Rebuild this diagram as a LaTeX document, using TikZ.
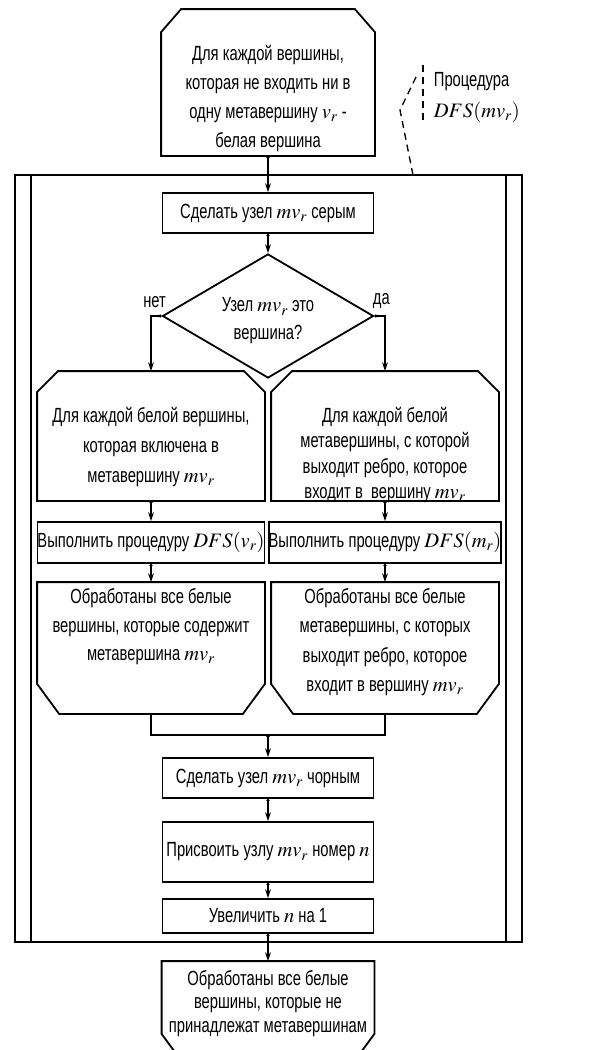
\documentclass[tikz,border=0pt]{standalone}
\usepackage{mathptmx}
\usepackage{fontspec}
\setmainfont{Liberation Sans}[FakeStretch=0.72]
\usetikzlibrary{arrows.meta,shapes.geometric,calc,positioning}

\begin{document}
\begin{tikzpicture}[x=1pt,y=-1pt,line width=1.8pt,
  every node/.style={font=\fontsize{20.5}{28.5}\selectfont, align=center, inner sep=0pt},
  lsp/.style={font=\fontsize{20.5}{#1}\selectfont},
  flow/.style={{Circle[length=3pt]}-{Stealth[length=9pt,width=6pt]}},
  act/.style={draw, rectangle, minimum width=211pt},
  cutbox/.style={rectangle, minimum width=226pt},
  ]
  \useasboundingbox (0,0) rectangle (593,1050);
  \clip (0,0) rectangle (593,1050);

  % рамка цикла
  \node[draw, minimum width=507pt, minimum height=767pt] (loop) at (268.5,558.5) {};
  \draw ($(loop.north west)+(17,0)$) -- ($(loop.south west)+(17,0)$);
  \draw ($(loop.north east)+(-17,0)$) -- ($(loop.south east)+(-17,0)$);

  % блоки
  \node[cutbox, minimum width=212pt, minimum height=145pt] (start) at (268,82.5) {};
  \node[lsp=29pt] (startt) at ($(start)+(0,16)$)
    {Для каждой вершины,\\которая не входить ни в\\одну метавершину $v_r$ -\\белая вершина};
  \node[act, minimum height=40pt] (gray) at (268,213) {Сделать узел $mv_r$ серым};
  \node[draw, diamond, aspect=1.7, minimum width=211pt, minimum height=124pt] (cond) at (268,316) {};
  \node[lsp=28pt] (condt) at ($(cond)+(0,5)$) {Узел $mv_r$ это\\вершина?};
  \node[above=7pt of cond.west, xshift=-7pt] (no) {нет};
  \node[above=7pt of cond.east, xshift=7pt] (yes) {да};

  \node[cutbox, minimum height=128pt] (lbeg) at (151,436) {};
  \node[lsp=30pt] (lbegt) at ($(lbeg)+(0,11)$)
    {Для каждой белой вершины,\\которая включена в\\метавершину $mv_r$};
  \node[cutbox, minimum height=128pt] (rbeg) at (385,436) {};
  \node[lsp=25.5pt] (rbegt) at ($(rbeg)+(0,19)$)
    {Для каждой белой\\метавершины, с которой\\выходит ребро, которое\\входит в\ \ вершину $mv_r$};
  \node[act, minimum width=226pt, minimum height=41pt] (lexec) at (151,542.5)
    {Выполнить процедуру $DFS(v_r)$};
  \node[act, minimum width=226pt, minimum height=41pt] (rexec) at (385,542.5)
    {Выполнить процедуру $DFS(m_r)$};
  \node[cutbox, minimum height=130pt] (lend) at (151,648) {};
  \node[lsp=28.5pt] (lendt) at ($(lend)+(0,-21)$)
    {Обработаны все белые\\вершины, которые содержит\\метавершина $mv_r$};
  \node[cutbox, minimum height=130pt] (rend) at (385,648) {};
  \node[lsp=29.5pt] (rendt) at ($(rend)+(0,-6)$)
    {Обработаны все белые\\метавершины, с которых\\выходит ребро, которое\\входит в вершину $mv_r$};
  \coordinate (join) at (268,735);

  \node[act, minimum height=40pt] (black) at (268,778) {Сделать узел $mv_r$ чорным};
  \node[act, minimum height=60pt] (assign) at (268,852) {Присвоить узлу $mv_r$ номер $n$};
  \node[act, minimum height=34pt] (incr) at (268,916) {Увеличить $n$ на 1};
  \node[cutbox, minimum width=211pt, minimum height=101pt] (fin) at (268,1012.5) {};
  \node[lsp=23.5pt] (fint) at ($(fin)+(0,-9)$)
    {Обработаны все белые\\вершины, которые не\\принадлежат метавершинам};

  % начало и конец цикла (срезанные углы)
  \foreach \n/\cx/\cy in {start/20/23, lbeg/21/21, rbeg/21/21}
    \draw (\n.south west) -- ($(\n.north west)+(0,\cy)$) -- ($(\n.north west)+(\cx,0)$)
      -- ($(\n.north east)+(-\cx,0)$) -- ($(\n.north east)+(0,\cy)$) -- (\n.south east) -- cycle;
  \foreach \n/\cx/\cy in {lend/22/30, rend/22/30, fin/22/30}
    \draw (\n.north west) -- ($(\n.south west)+(0,-\cy)$) -- ($(\n.south west)+(\cx,0)$)
      -- ($(\n.south east)+(-\cx,0)$) -- ($(\n.south east)+(0,-\cy)$) -- (\n.north east) -- cycle;

  % комментарий
  \node[anchor=west, align=left, lsp=31pt] (proc) at (433,97.5) {Процедура\\$DFS(mv_r)$};
  \coordinate (ca) at (413,175);
  \coordinate (cb) at (400,110);
  \coordinate (cc) at (418,73);
  \coordinate (ba) at (423,65);
  \coordinate (bb) at (423,122);
  \draw[line width=1.3pt, dash pattern=on 7pt off 5pt] (ca) -- (cb) -- (cc);
  \draw[line width=1.3pt, dash pattern=on 7pt off 5pt] (ba) -- (bb);

  % связи
  \draw[flow] (start) -- (gray);
  \draw[flow] (gray) -- (cond);
  \draw[flow] (cond.west) -| (lbeg.north);
  \draw[flow] (cond.east) -| (rbeg.north);
  \draw[flow] (lbeg) -- (lexec);
  \draw[flow] (rbeg) -- (rexec);
  \draw[flow] (lexec) -- (lend);
  \draw[flow] (rexec) -- (rend);
  \draw (lend.south) |- (join) -| (rend.south);
  \draw[flow] (join) -- (black);
  \draw[flow] (black) -- (assign);
  \draw[flow] (assign) -- (incr);
  \draw[flow] (incr) -- (fin);
\end{tikzpicture}
\end{document}
